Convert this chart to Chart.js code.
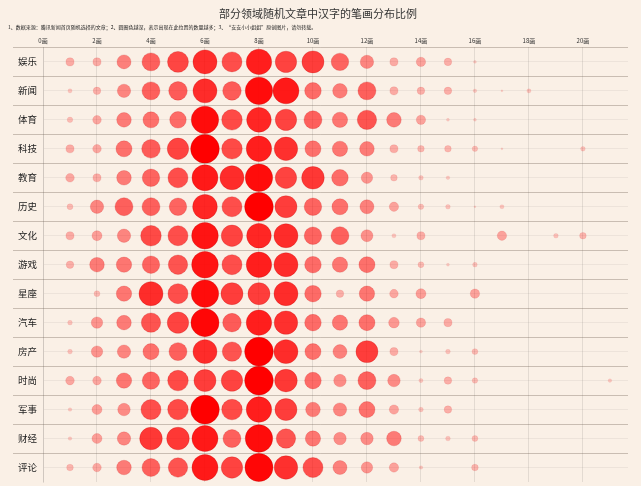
<!DOCTYPE html>
<html>
<head>
<meta charset="utf-8">
<script src="https://cdn.jsdelivr.net/npm/chart.js@4"></script>
<style>
    html, body { margin: 0; padding: 0; background: #faf0e6; }
</style>
</head>
<body>
<canvas id="myChart" width="641" height="486"></canvas>
<script>
// 分类（每行一个领域）
const categories = ['娱乐', '新闻', '体育', '科技', '教育', '历史', '文化', '游戏', '星座', '汽车', '房产', '时尚', '军事', '财经', '评论'];
// 笔画数 1..21
const strokes = [1, 2, 3, 4, 5, 6, 7, 8, 9, 10, 11, 12, 13, 14, 15, 16, 17, 18, 19, 20, 21];
const xTicks = [0, 2, 4, 6, 8, 10, 12, 14, 16, 18, 20];

// 各领域笔画占比（%），按 strokes 顺序
const yule   = [1.5, 1.5, 4.5, 7.4, 10.1, 13.2, 9.2, 14.8, 10.5, 11.1, 7.0, 4.1, 1.5, 2.0, 1.3, 0.2, 0, 0, 0, 0, 0];
const xinwen = [0.4, 1.3, 4.1, 7.4, 7.9, 13.2, 7.9, 17.2, 15.5, 6.3, 4.9, 7.4, 1.5, 1.3, 1.3, 0.3, 0.1, 0.4, 0, 0, 0];
const tiyu   = [0.7, 1.7, 4.9, 5.9, 6.3, 17.2, 9.7, 13.9, 10.5, 7.4, 5.4, 8.6, 4.9, 2.0, 0.2, 0.2, 0, 0, 0, 0, 0];
const keji   = [1.5, 1.7, 5.9, 7.9, 10.5, 18.8, 9.7, 14.8, 12.6, 5.9, 5.4, 4.9, 1.5, 1.0, 1.0, 0.7, 0.1, 0, 0, 0.5, 0];
const jiaoyu = [1.7, 1.5, 4.9, 7.0, 9.2, 15.5, 13.2, 17.2, 10.5, 11.7, 6.3, 3.0, 1.0, 0.5, 0.3, 0, 0, 0, 0, 0, 0];
const lishi  = [0.8, 4.1, 7.4, 7.4, 7.0, 13.9, 9.2, 18.8, 11.1, 7.0, 5.9, 4.5, 2.0, 0.7, 0.5, 0.1, 0.4, 0, 0, 0, 0];
const wenhua = [1.5, 2.3, 4.1, 9.7, 9.2, 16.2, 10.5, 13.9, 13.2, 7.0, 7.4, 3.3, 0.4, 1.5, 0, 0, 2.0, 0, 0.5, 1.0, 0];
const youxi  = [1.3, 4.9, 5.4, 7.0, 8.6, 16.2, 9.2, 14.8, 13.2, 6.3, 5.4, 5.9, 1.5, 0.8, 0.2, 0.5, 0, 0, 0, 0, 0];
const xingzuo = [0, 0.8, 5.4, 13.2, 9.2, 17.2, 11.1, 11.1, 13.2, 6.3, 1.3, 5.4, 1.7, 2.3, 0, 2.0, 0, 0, 0, 0, 0];
const qiche  = [0.5, 3.0, 4.9, 8.6, 10.5, 18.0, 7.9, 14.8, 12.6, 6.3, 5.4, 5.9, 2.6, 2.0, 1.5, 0, 0, 0, 0, 0, 0];
const fangchan = [0.5, 3.0, 4.1, 5.9, 7.4, 13.2, 8.6, 18.8, 13.2, 5.9, 4.5, 11.1, 1.5, 0.2, 0.5, 0.8, 0, 0, 0, 0, 0];
const shishang = [1.7, 1.7, 5.4, 7.0, 9.7, 11.1, 10.5, 18.8, 11.7, 6.3, 3.6, 7.4, 3.6, 0.4, 1.3, 0.7, 0, 0, 0, 0, 0.3];
const junshi = [0.3, 2.3, 3.6, 9.2, 9.7, 18.8, 9.7, 14.8, 11.1, 4.9, 4.1, 5.9, 2.0, 0.5, 1.3, 0, 0, 0, 0, 0, 0];
const caijing = [0.3, 2.3, 4.1, 11.7, 11.7, 15.5, 7.4, 17.2, 8.6, 5.4, 3.6, 3.6, 4.9, 0.8, 0.5, 0.8, 0, 0, 0, 0, 0];
const pinglun = [1.0, 1.7, 4.9, 7.4, 8.6, 15.5, 10.5, 18.0, 12.6, 9.2, 4.5, 3.0, 2.0, 0.3, 0, 1.0, 0, 0, 0, 0, 0];

const rows = [yule, xinwen, tiyu, keji, jiaoyu, lishi, wenhua, youxi, xingzuo, qiche, fangchan, shishang, junshi, caijing, pinglun];

const FONT = "'Noto Sans CJK SC', 'Noto Sans', sans-serif";

function radius(p) { return 3.3 * Math.sqrt(p); }
function alpha(p) { return Math.min(1, 0.12 + 0.88 * Math.pow(radius(p) / 14.3, 1.3)); }

var datasets = [];
rows.forEach((vals, i) => {
    var pts = [];
    vals.forEach((p, j) => {
        if (p > 0) pts.push({ x: strokes[j], y: i, r: radius(p), v: p });
    });
    datasets.push({
        label: categories[i],
        data: pts,
        backgroundColor: c => 'rgba(255, 0, 0, ' + alpha(c.raw.v).toFixed(3) + ')',
        borderColor: c => 'rgba(190, 0, 0, ' + (alpha(c.raw.v) * 0.35).toFixed(3) + ')',
        borderWidth: 1
    });
});

// 行与行之间的分隔线
const rowLines = {
    id: 'rowLines',
    beforeDatasetsDraw(chart) {
        const y = chart.scales.y, c = chart.ctx, area = chart.chartArea;
        c.save();
        c.strokeStyle = 'rgba(110, 95, 80, 0.35)';
        c.lineWidth = 1;
        categories.forEach((cat, i) => {
            const py = Math.round(y.getPixelForValue(i - 0.5)) + 0.5;
            c.beginPath();
            c.moveTo(13, py);
            c.lineTo(area.right, py);
            c.stroke();
        });
        c.restore();
    }
};

const ctx = document.getElementById('myChart').getContext('2d');
const myChart = new Chart(ctx, {
    type: 'bubble',
    data: { datasets: datasets },
    plugins: [rowLines],
    options: {
        responsive: false,
        animation: false,
        layout: { autoPadding: false, padding: { left: 8, right: 13, top: 0, bottom: 4 } },
        plugins: {
            legend: { display: false },
            tooltip: { enabled: false },
            title: {
                display: true,
                text: '部分领域随机文章中汉字的笔画分布比例',
                color: '#333',
                font: { family: FONT, size: 11, weight: 'normal' },
                padding: { top: 7, bottom: 4 }
            },
            subtitle: {
                display: true,
                text: '1、数据来源：腾讯新闻首页随机选择的文章；2、圆圈色越深，表示出现在此位置的数量越多；3、“安安小小姐姐”原创图片，请勿转载。',
                align: 'start',
                color: '#222',
                font: { family: FONT, size: 5 },
                padding: { top: 0, bottom: 4 }
            }
        },
        scales: {
            x: {
                type: 'linear',
                position: 'top',
                min: 0,
                max: 21.67,
                afterBuildTicks: s => { s.ticks = xTicks.map(v => ({ value: v })); },
                ticks: {
                    callback: v => v + '画',
                    color: '#333',
                    font: { family: FONT, size: 6 },
                    padding: 3,
                    maxRotation: 0
                },
                grid: { color: 'rgba(0, 0, 0, 0.09)', drawTicks: false },
                border: { display: false }
            },
            y: {
                type: 'linear',
                reverse: true,
                min: -0.5,
                max: 14.5,
                afterBuildTicks: s => { s.ticks = categories.map((c, i) => ({ value: i })); },
                afterFit: s => { s.width = 35; s.paddingTop = 0; s.paddingBottom = 0; },
                ticks: {
                    callback: v => categories[v],
                    color: '#222',
                    font: { family: FONT, size: 9.5 },
                    padding: 6
                },
                grid: { color: 'rgba(0, 0, 0, 0.05)', drawTicks: false },
                border: { color: 'rgba(0, 0, 0, 0.09)' }
            }
        }
    }
});
</script>
</body>
</html>
